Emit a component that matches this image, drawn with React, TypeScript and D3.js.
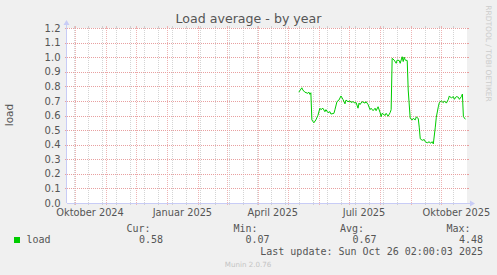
import React from "react";
import * as d3 from "d3";

const W = 497;
const H = 275;

const titleText = "Load average - by year";
const yAxisLabel = "load";
const watermark = "RRDTOOL / TOBI OETIKER";
const footer = "Munin 2.0.76";

const yTicks = [0, 0.1, 0.2, 0.3, 0.4, 0.5, 0.6, 0.7, 0.8, 0.9, 1.0, 1.1, 1.2];
const xLabelMonths = ["2024-10-01", "2025-01-01", "2025-04-01", "2025-07-01", "2025-10-01"];
const xLabels = ["Oktober 2024", "Januar 2025", "April 2025", "Juli 2025", "Oktober 2025"];

const seriesName = "load";
const legendHeaders = ["Cur:", "Min:", "Avg:", "Max:"];
const legendValues = ["0.58", "0.07", "0.67", "4.48"];
const lastUpdate = "Last update: Sun Oct 26 02:00:03 2025";

const loadDates = [
  "2025-05-12", "2025-05-15", "2025-05-16", "2025-05-18", "2025-05-21", "2025-05-22", "2025-05-23", "2025-05-24",
  "2025-05-25", "2025-05-27", "2025-05-29", "2025-05-31", "2025-06-02", "2025-06-03", "2025-06-05", "2025-06-07",
  "2025-06-08", "2025-06-10", "2025-06-12", "2025-06-13", "2025-06-16", "2025-06-17", "2025-06-19", "2025-06-21",
  "2025-06-23", "2025-06-25", "2025-06-27", "2025-06-28", "2025-06-30", "2025-07-02", "2025-07-03", "2025-07-05",
  "2025-07-07", "2025-07-08", "2025-07-10", "2025-07-11", "2025-07-12", "2025-07-14", "2025-07-17", "2025-07-18",
  "2025-07-20", "2025-07-22", "2025-07-23", "2025-07-25", "2025-07-27", "2025-07-28", "2025-07-30", "2025-08-01",
  "2025-08-02", "2025-08-03", "2025-08-06", "2025-08-07", "2025-08-09", "2025-08-11", "2025-08-12", "2025-08-13",
  "2025-08-15", "2025-08-17", "2025-08-18", "2025-08-20", "2025-08-21", "2025-08-23", "2025-08-24", "2025-08-25",
  "2025-08-26", "2025-08-28", "2025-08-29", "2025-08-31", "2025-09-02", "2025-09-03", "2025-09-05", "2025-09-06",
  "2025-09-08", "2025-09-09", "2025-09-10", "2025-09-12", "2025-09-14", "2025-09-15", "2025-09-17", "2025-09-19",
  "2025-09-20", "2025-09-22", "2025-09-23", "2025-09-25", "2025-09-26", "2025-09-28", "2025-09-29", "2025-10-01",
  "2025-10-03", "2025-10-04", "2025-10-06", "2025-10-08", "2025-10-09", "2025-10-11", "2025-10-13", "2025-10-14",
  "2025-10-16", "2025-10-18", "2025-10-19", "2025-10-21", "2025-10-22", "2025-10-23", "2025-10-25",
];
const loadValues = [
  0.76, 0.79, 0.775, 0.76, 0.752, 0.76, 0.745, 0.756,
  0.57, 0.55, 0.57, 0.6, 0.65, 0.64, 0.65, 0.626,
  0.64, 0.62, 0.626, 0.61, 0.615, 0.64, 0.695, 0.706,
  0.734, 0.71, 0.68, 0.706, 0.695, 0.7, 0.69, 0.695,
  0.685, 0.69, 0.65, 0.685, 0.675, 0.695, 0.685, 0.695,
  0.675, 0.64, 0.65, 0.633, 0.65, 0.633, 0.66, 0.62,
  0.592, 0.615, 0.6, 0.615, 0.595, 0.62, 0.64, 0.992,
  0.98, 0.958, 0.98, 0.977, 0.958, 1.003, 0.97, 1.0,
  0.98, 0.977, 0.775, 0.58, 0.57, 0.58, 0.57, 0.59,
  0.58, 0.52, 0.44, 0.43, 0.435, 0.42, 0.413, 0.42,
  0.41, 0.42, 0.405, 0.52, 0.588, 0.66, 0.688, 0.7,
  0.688, 0.7, 0.685, 0.711, 0.734, 0.72, 0.73, 0.711,
  0.73, 0.725, 0.711, 0.73, 0.747, 0.592, 0.574,
];

const parse = (s: string) => new Date(s + "T00:00:00Z");

const PL = 67, PR = 467, PT = 28, PB = 203;

export default function App() {
  const x = d3
    .scaleUtc()
    .domain([new Date(Date.UTC(2024, 8, 23)), new Date(Date.UTC(2025, 9, 26, 14))])
    .range([PL, PR]);
  const y = d3.scaleLinear().domain([0, 1.2]).range([PB, PT]);

  const [d0, d1] = x.domain();
  const months = d3.utcMonth.range(d3.utcDay.offset(d0, 1), d1);
  const minor: Date[] = [];
  for (let t = new Date(Date.UTC(2024, 8, 30)); t < d1; t = d3.utcDay.offset(t, 14)) {
    if (t > d0) minor.push(t);
  }

  const data = loadDates.map((d, i) => ({ date: parse(d), value: loadValues[i] }));
  const line = d3
    .line<{ date: Date; value: number }>()
    .x((d) => x(d.date))
    .y((d) => y(d.value));

  const sans = "'DejaVu Sans', sans-serif";
  const mono = "'DejaVu Sans Mono', monospace";
  const txt = "#555";
  const axisCol = "#c8ccf6";
  const majorCol = "#eeb4b4";
  const headerEnds = [150.5, 257.5, 364, 470.5];
  const valueEnds = [163, 269.5, 376.5, 483];

  return (
    <svg
      width={W}
      height={H}
      style={{ position: "absolute", left: 0, top: 0, display: "block" }}
      xmlns="http://www.w3.org/2000/svg"
    >
      <rect x={0} y={0} width={W} height={H} fill="#f0f0f0" />
      <rect x={PL} y={PT} width={PR - PL} height={PB - PT} fill="#ffffff" />

      {/* minor vertical grid */}
      {minor.map((t, i) => (
        <g key={"mn" + i}>
          <line x1={Math.round(x(t)) + 0.5} x2={Math.round(x(t)) + 0.5} y1={PT} y2={PB}
            stroke="#d4d4d4" strokeWidth={1} strokeDasharray="1,1" />
          <line x1={Math.round(x(t)) + 0.5} x2={Math.round(x(t)) + 0.5} y1={PT - 2} y2={PT}
            stroke="#d0d0d0" strokeWidth={1} />
          <line x1={Math.round(x(t)) + 0.5} x2={Math.round(x(t)) + 0.5} y1={PB} y2={PB + 2}
            stroke="#d0d0d0" strokeWidth={1} />
        </g>
      ))}
      {/* major vertical grid */}
      {months.map((t, i) => (
        <g key={"mj" + i}>
          <line x1={Math.round(x(t)) + 0.5} x2={Math.round(x(t)) + 0.5} y1={PT} y2={PB}
            stroke={majorCol} strokeWidth={1} strokeDasharray="1,1" />
          <line x1={Math.round(x(t)) + 0.5} x2={Math.round(x(t)) + 0.5} y1={PT - 2} y2={PT}
            stroke={majorCol} strokeWidth={1} />
          <line x1={Math.round(x(t)) + 0.5} x2={Math.round(x(t)) + 0.5} y1={PB} y2={PB + 2}
            stroke={majorCol} strokeWidth={1} />
        </g>
      ))}
      {/* horizontal grid */}
      {yTicks.slice(1).map((v, i) => (
        <g key={"hg" + i}>
          <line x1={PL} x2={PR} y1={Math.round(y(v)) + 0.5} y2={Math.round(y(v)) + 0.5}
            stroke="#e8a0a0" strokeWidth={1} strokeDasharray="1,1" />
          <line x1={PL - 2} x2={PL} y1={Math.round(y(v)) + 0.5} y2={Math.round(y(v)) + 0.5}
            stroke="#e8a0a0" strokeWidth={1} />
          <line x1={PR} x2={PR + 2} y1={Math.round(y(v)) + 0.5} y2={Math.round(y(v)) + 0.5}
            stroke="#e8a0a0" strokeWidth={1} />
        </g>
      ))}

      {/* axes */}
      <line x1={PL - 0.5} x2={PL - 0.5} y1={PB} y2={PT - 4} stroke={axisCol} strokeWidth={1} />
      <path d={`M${PL - 3.5},${PT - 3} L${PL + 2.5},${PT - 3} L${PL - 0.5},${PT - 8} Z`} fill={axisCol} />
      <line x1={PL} x2={PR + 4} y1={PB + 0.5} y2={PB + 0.5} stroke={axisCol} strokeWidth={1} />
      <path d={`M${PR + 3},${PB - 2.5} L${PR + 3},${PB + 3.5} L${PR + 8},${PB + 0.5} Z`} fill={axisCol} />

      {/* data line */}
      <path d={line(data) || ""} fill="none" stroke="#00cc00" strokeWidth={1} />

      {/* y tick labels */}
      {yTicks.map((v, i) => (
        <text key={"yl" + i} x={60.5} y={y(v) + 3.6} textAnchor="end" fontFamily={sans} fontSize={10} fill={txt}>
          {v.toFixed(1)}
        </text>
      ))}
      {/* x tick labels */}
      {xLabelMonths.map((m, i) => (
        <text key={"xl" + i} x={x(d3.utcDay.offset(parse(m), 15))} y={215.5} textAnchor="middle"
          fontFamily={sans} fontSize={9.8} fill={txt}>
          {xLabels[i]}
        </text>
      ))}

      {/* title */}
      <text x={248.5} y={22.5} textAnchor="middle" fontFamily={sans} fontSize={12.6} fill={txt}>
        {titleText}
      </text>
      {/* y-axis label */}
      <text transform={`translate(13.3,115) rotate(-90)`} textAnchor="middle" fontFamily={sans} fontSize={10.5} fill={txt}>
        {yAxisLabel}
      </text>
      {/* watermark */}
      <text transform={`translate(485.5,53.5) rotate(90)`} textAnchor="middle" fontFamily={sans} fontSize={7.5} fill="#cccccc">
        {watermark}
      </text>

      {/* legend */}
      <rect x={14} y={237} width={6} height={6} fill="#00cc00" />
      <text x={26.5} y={243} fontFamily={mono} fontSize={10} fill={txt}>{seriesName}</text>
      {legendHeaders.map((h, i) => (
        <text key={"lh" + i} x={headerEnds[i]} y={231.5} textAnchor="end" fontFamily={mono} fontSize={10} fill={txt}>
          {h}
        </text>
      ))}
      {legendValues.map((v, i) => (
        <text key={"lv" + i} x={valueEnds[i]} y={243} textAnchor="end" fontFamily={mono} fontSize={10} fill={txt}>
          {v}
        </text>
      ))}
      <text x={483} y={255} textAnchor="end" fontFamily={mono} fontSize={10} fill={txt}>{lastUpdate}</text>
      <text x={248} y={267} textAnchor="middle" fontFamily={sans} fontSize={7.1} fill="#c4c4c4">{footer}</text>
    </svg>
  );
}
